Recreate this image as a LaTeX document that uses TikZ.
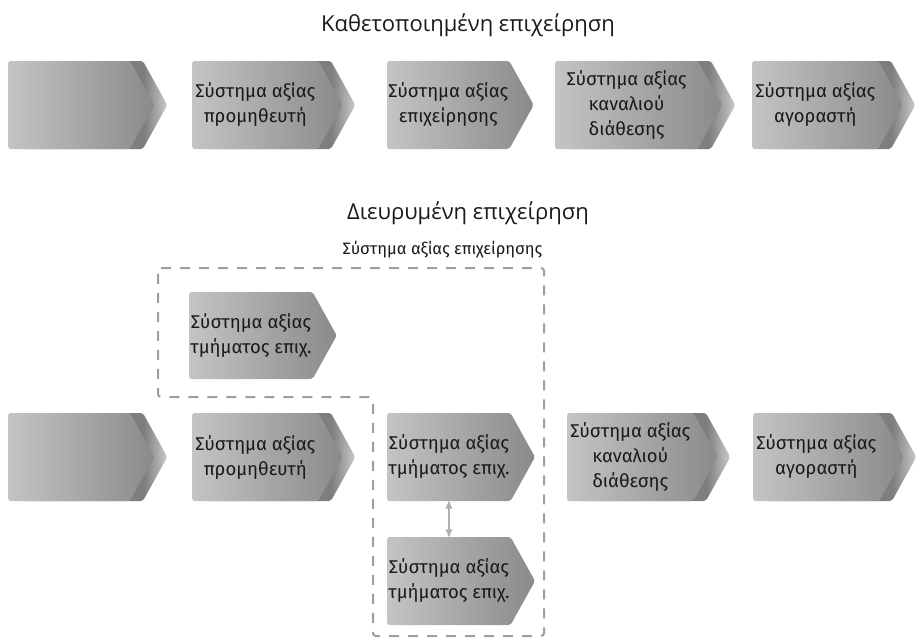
\documentclass[tikz,border=0pt]{standalone}
\usepackage{fontspec}
\setmainfont{Fira Sans}
\newfontfamily\headfont{Open Sans}
\usetikzlibrary{shapes.symbols,arrows,positioning}

\definecolor{chevlight}{HTML}{C4C4C4}
\definecolor{chevdark}{HTML}{8A8A8A}
\definecolor{backdark}{HTML}{7E7E7E}
\definecolor{backlight}{HTML}{CACACA}
\definecolor{framegray}{HTML}{9E9E9E}
\definecolor{inkgray}{HTML}{1A1A1A}

\pgfdeclarehorizontalshading{backshade}{100bp}{color(0bp)=(backdark); color(25bp)=(backdark); color(67bp)=(backdark); color(75bp)=(backlight); color(100bp)=(backlight)}

\begin{document}
\begin{tikzpicture}[x=1pt, y=-1pt, >=stealth', semithick]

    \tikzstyle{chev} = [signal, signal to=east, signal pointer angle=122, minimum height=88pt, minimum width=146pt, inner xsep=3pt, inner ysep=0pt, rounded corners=2pt, left color=chevlight, right color=chevdark, draw=none, align=center, text=inkgray, font=\fontsize{18.5}{25}\selectfont, anchor=west]
    \tikzstyle{chevback} = [signal, signal to=east, signal pointer angle=122, minimum height=88pt, minimum width=150pt, inner sep=0pt, rounded corners=2pt, shading=backshade, draw=none, anchor=west]
    \tikzstyle{heading} = [font=\headfont\fontsize{22}{26}\selectfont, text=inkgray]
    \tikzstyle{frame} = [draw=framegray, line width=2pt, dash pattern=on 10pt off 9pt, rounded corners=3pt]

    \useasboundingbox (0,0) rectangle (920,643);

    \node (vert title) [heading] at (468,25) {Καθετοποιημένη επιχείρηση};
    \node (ext title)  [heading] at (468,213) {Διευρυμένη επιχείρηση};

    % upper chain
    \node (v1 back)  [chevback, minimum width=146pt] at (21,105)  {};
    \node (v1)       [chev]     at (8,105)   {};
    \node (v2 back)  [chevback] at (205,105) {};
    \node (v2)       [chev]     at (192,105) {Σύστημα αξίας\\προμηθευτή};
    \node (v3)       [chev, inner xsep=1pt] at (387,105) {Σύστημα αξίας\\επιχείρησης};
    \node (v4 back)  [chevback, minimum width=167pt] at (568,105) {};
    \node (v4)       [chev, minimum width=167pt]     at (555,105) {Σύστημα αξίας\\καναλιού\\διάθεσης};
    \node (v5 back)  [chevback] at (765,105) {};
    \node (v5)       [chev]     at (752,105) {Σύστημα αξίας\\αγοραστή};

    % lower chain
    \node (e1 back)  [chevback, minimum width=146pt] at (21,457)  {};
    \node (e1)       [chev]     at (8,457)   {};
    \node (e2 back)  [chevback] at (205,457) {};
    \node (e2)       [chev]     at (192,457) {Σύστημα αξίας\\προμηθευτή};
    \node (unit a)   [chev, inner xsep=1pt, minimum height=87pt] at (189,335.5) {Σύστημα αξίας\\τμήματος επιχ.};
    \node (unit b)   [chev, inner xsep=1pt] at (387,457) {Σύστημα αξίας\\τμήματος επιχ.};
    \node (unit c)   [chev, inner xsep=1pt] at (387,581) {Σύστημα αξίας\\τμήματος επιχ.};
    \node (e5 back)  [chevback] at (580,457) {};
    \node (e5)       [chev]     at (567,457) {Σύστημα αξίας\\καναλιού\\διάθεσης};
    \node (e6 back)  [chevback] at (766,457) {};
    \node (e6)       [chev]     at (753,457) {Σύστημα αξίας\\αγοραστή};

    \path[<->, draw=framegray!80, line width=1.6pt] (unit b) edge (unit c);

    % boundary of the firm
    \draw[frame] (158,268) -- (544,268) -- (544,636) -- (373,636) -- (373,397) -- (158,397) -- cycle;
    \node (firm label) [anchor=east, text=inkgray, font=\fontsize{16.5}{19}\selectfont] at (546,250) {Σύστημα αξίας επιχείρησης};

\end{tikzpicture}
\end{document}
